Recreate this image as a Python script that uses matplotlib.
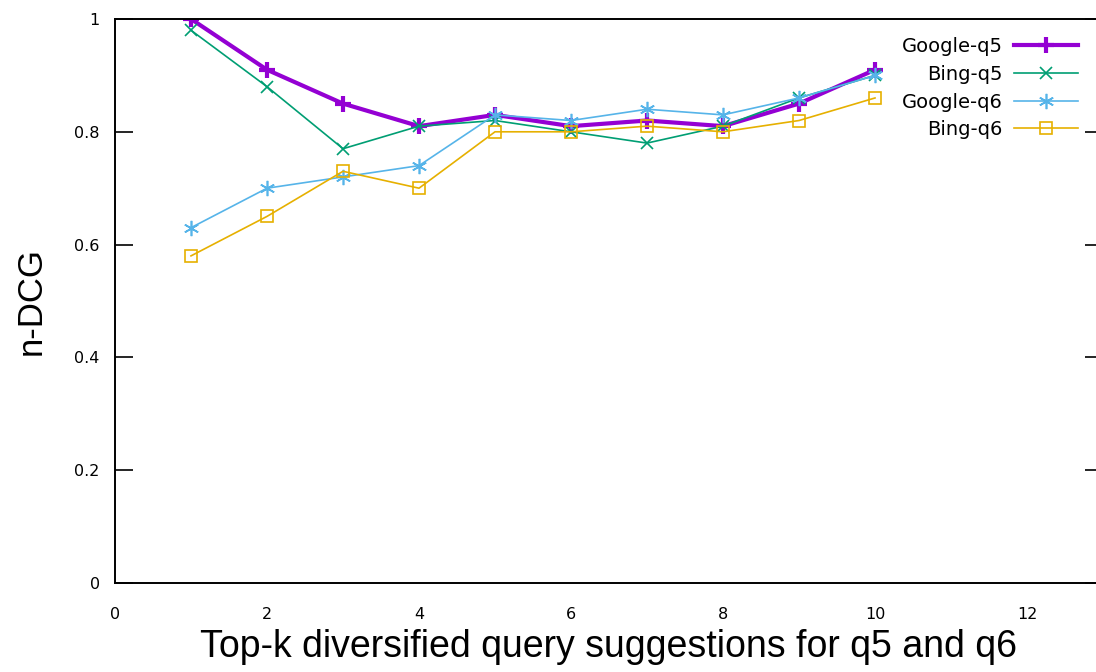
import numpy as np
import matplotlib
matplotlib.use("Agg")
import matplotlib.pyplot as plt
from matplotlib.ticker import FuncFormatter

k = [1, 2, 3, 4, 5, 6, 7, 8, 9, 10]
google_q5 = [1.00, 0.91, 0.85, 0.81, 0.83, 0.81, 0.82, 0.81, 0.85, 0.91]
bing_q5 = [0.98, 0.88, 0.77, 0.81, 0.82, 0.80, 0.78, 0.81, 0.86, 0.90]
google_q6 = [0.63, 0.70, 0.72, 0.74, 0.83, 0.82, 0.84, 0.83, 0.86, 0.90]
bing_q6 = [0.58, 0.65, 0.73, 0.70, 0.80, 0.80, 0.81, 0.80, 0.82, 0.86]

fig = plt.figure(figsize=(10.96, 6.72), dpi=100)
# right border of the frame falls just outside the picture
ax = fig.add_axes([115/1096, 1 - 583/672, (1103 - 115)/1096, (583 - 19)/672])

ax.plot(k, google_q5, color='#9400D3', lw=3.0, marker='+', ms=12, mew=3.0, label='Google-q5')
ax.plot(k, bing_q5, color='#009E73', lw=1.2, marker='x', ms=9, mew=1.2, label='Bing-q5')
ax.plot(k, google_q6, color='#56B4E9', lw=1.2, marker=(6, 2, 0), ms=11, mew=1.2, label='Google-q6')
ax.plot(k, bing_q6, color='#E6B000', lw=1.2, marker='s', ms=9, mfc='none', mew=1.2, label='Bing-q6')

ax.set_xlim(0, 13)
ax.set_ylim(0, 1)
ax.set_xticks(np.arange(0, 13, 2))
ax.set_yticks(np.arange(0, 1.01, 0.2))
ax.yaxis.set_major_formatter(FuncFormatter(lambda v, p: '%g' % round(v, 1)))

ax.tick_params(axis='x', length=0, pad=17, labelsize=11.5)
ax.tick_params(axis='y', direction='in', length=13, width=1.2, right=True, pad=11, labelsize=11.5)
for s in ax.spines.values():
    s.set_linewidth(1.4)

ax.set_xlabel('Top-k diversified query suggestions for q5 and q6', fontsize=27,
              family='Liberation Sans', labelpad=5)
ax.set_ylabel('n-DCG', fontsize=25, family='Liberation Sans')
ax.yaxis.set_label_coords(-0.068, 0.5)

leg = ax.legend(loc='upper right', bbox_to_anchor=(0.975, 0.968), frameon=False,
                markerfirst=False, fontsize=14, handlelength=3.3, labelspacing=0.45,
                handletextpad=0.6, borderaxespad=0, borderpad=0)

plt.savefig('out.png', dpi=100)
